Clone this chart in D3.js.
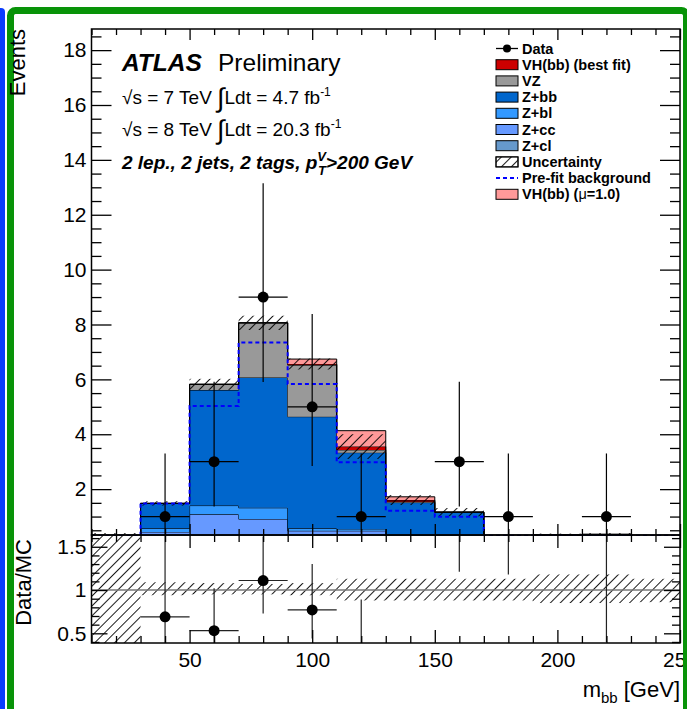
<!DOCTYPE html>
<html lang="en">
<head>
<meta charset="UTF-8"/>
<title>m_bb 2 lepton 2 tag</title>
<script src="https://d3js.org/d3.v7.min.js"></script>
<style>
    body { margin: 0; background: #fff; }
    svg text { font-family: "Liberation Sans", Arial, Helvetica, sans-serif; }
</style>
</head>
<body>
<div id="chart"></div>
<script>
    // m_bb bin edges (GeV)
    var binEdges = [10, 30, 50, 70, 90, 110, 130, 150, 170, 190, 210, 230, 250];

    // stacked backgrounds per bin, bottom to top
    var zcl  = [0, 0.10, 0.15, 0.12, 0.08, 0.06, 0.02, 0.01, 0, 0, 0, 0];
    var zcc  = [0, 0.34, 0.93, 0.79, 0.40, 0.42, 0.05, 0.03, 0.01, 0.01, 0.01, 0];
    var zbl  = [0, 0.13, 0.32, 0.41, 0.09, 0.07, 0.05, 0.03, 0.01, 0.01, 0.01, 0];
    var zbb  = [0, 0.91, 4.21, 4.75, 4.07, 2.78, 1.39, 1.09, 0.13, 0.31, 0.33, 0];
    var vz   = [0, 0, 0.21, 1.99, 1.88, 0.10, 0.04, 0, 0, 0, 0, 0];
    var vh   = [0, 0, 0, 0, 0.04, 0.12, 0.05, 0, 0, 0, 0, 0];
    var vhSM = [0, 0, 0, 0, 0.18, 0.58, 0.12, 0, 0, 0, 0, 0];
    var uncertainty = [0.40, 0.08, 0.20, 0.26, 0.20, 0.45, 0.18, 0.15, 0.05, 0.05, 0.05, 0.05];
    var prefit = [0.3, 1.48, 5.03, 7.34, 5.83, 2.98, 1.21, 0.99, 0.3, 0.3, 0.3, 0.3];

    // data
    var dataMass   = [40, 60, 80, 100, 120, 160, 180, 220];
    var dataEvents = [1, 3, 9, 5, 1, 3, 1, 1];
    var dataLow    = [0.173, 1.367, 5.902, 2.840, 0.173, 1.367, 0.173, 0.173];
    var dataHigh   = [3.300, 5.918, 13.145, 8.382, 3.300, 5.918, 3.300, 3.300];

    // ratio panel
    var ratioVal  = [0.69, 0.53, 1.11, 0.77, 0.29, 2.6, 6.8, 2.6];
    var ratioLow  = [0.12, 0.24, 0.73, 0.44, 0.05, 1.21, 1.18, 0.40];
    var ratioHigh = [2.28, 1.02, 1.62, 1.30, 0.89, 5.1, 22, 8.7];
    var ratioBandLow  = [0, 0.94, 0.95, 0.95, 0.94, 0.88, 0.88, 0.88, 0.88, 0.85, 0.85, 0.86];
    var ratioBandHigh = [2, 1.09, 1.08, 1.07, 1.08, 1.13, 1.13, 1.13, 1.13, 1.18, 1.18, 1.13];

    var yTicks = [2, 4, 6, 8, 10, 12, 14, 16, 18];
    var ratioTicks = [0.5, 1, 1.5];
    var xTicks = [50, 100, 150, 200, 250];

    var legendLabels = ["Data", "VH(bb) (best fit)", "VZ", "Z+bb", "Z+bl", "Z+cc", "Z+cl",
                        "Uncertainty", "Pre-fit background", "VH(bb) (\u03bc=1.0)"];

    var colours = { zcl: "#6699cc", zcc: "#6699ff", zbl: "#3399ff", zbb: "#0066cc",
                    vz: "#999999", vh: "#cc0000", vhSM: "#ff9999" };

    var w = 687, h = 709;
    var L = 91.5, R = 680, T = 29, MID = 535, B = 643;

    var x = d3.scaleLinear().domain([10, 250]).range([L, R]);
    var y = d3.scaleLinear().domain([0, 18.77]).range([544, T]);
    var yr = d3.scaleLinear().domain([0.388, 1.636]).range([B, MID]);

    var svg = d3.select("#chart").append("svg")
        .attr("width", w).attr("height", h).style("display", "block");
    svg.append("rect").attr("width", w).attr("height", h).attr("fill", "white");

    var defs = svg.append("defs");
    defs.append("pattern").attr("id", "hatch")
        .attr("patternUnits", "userSpaceOnUse").attr("width", 7).attr("height", 7)
        .attr("patternTransform", "rotate(45)")
        .append("line").attr("x1", 3.5).attr("y1", 0).attr("x2", 3.5).attr("y2", 7)
        .attr("stroke", "black").attr("stroke-width", 0.9);
    defs.append("clipPath").attr("id", "clipTop").append("rect")
        .attr("x", L).attr("y", T).attr("width", R - L).attr("height", MID - T + 1);
    defs.append("clipPath").attr("id", "clipRatio").append("rect")
        .attr("x", L).attr("y", MID).attr("width", R - L).attr("height", B - MID);

    // ---------- top panel ----------
    var keys = ["zcl", "zcc", "zbl", "zbb", "vz", "vh", "vhSM"];
    var src = { zcl: zcl, zcc: zcc, zbl: zbl, zbb: zbb, vz: vz, vh: vh, vhSM: vhSM };
    var rows = binEdges.slice(0, -1).map(function(lo, i) {
        var r = { lo: lo };
        keys.forEach(function(k) { r[k] = src[k][i]; });
        return r;
    });
    var series = d3.stack().keys(keys)(rows);

    function steps(low, high) {
        var pts = low.map(function(v, i) { return { x: binEdges[i], y0: v, y1: high[i] }; });
        pts.push({ x: binEdges[binEdges.length - 1], y0: low[low.length - 1], y1: high[high.length - 1] });
        return pts;
    }

    var area = d3.area().curve(d3.curveStepAfter)
        .x(function(d) { return x(d.x); })
        .y0(function(d) { return y(d.y0); })
        .y1(function(d) { return y(d.y1); });
    var outline = d3.line().curve(d3.curveStepAfter)
        .x(function(d) { return x(d.x); })
        .y(function(d) { return y(d.y1); });

    var topG = svg.append("g").attr("clip-path", "url(#clipTop)");

    series.forEach(function(s) {
        var pts = steps(s.map(function(d) { return d[0]; }), s.map(function(d) { return d[1]; }));
        topG.append("path").attr("d", area(pts)).attr("fill", colours[s.key]);
        topG.append("path").attr("d", outline(pts)).attr("fill", "none")
            .attr("stroke", "black").attr("stroke-width", 1);
    });

    // uncertainty hatch around the best-fit total
    var total = series[5].map(function(d) { return d[1]; });
    topG.selectAll("rect.unc")
        .data(total)
        .enter()
        .append("rect")
        .attr("class", "unc")
        .attr("x", function(d, i) { return x(binEdges[i]); })
        .attr("width", function(d, i) { return x(binEdges[i + 1]) - x(binEdges[i]); })
        .attr("y", function(d, i) { return y(d + uncertainty[i]); })
        .attr("height", function(d, i) { return y(d - uncertainty[i]) - y(d + uncertainty[i]); })
        .attr("fill", "url(#hatch)");

    // pre-fit background
    topG.append("path")
        .attr("d", outline(steps(prefit, prefit)))
        .attr("fill", "none")
        .attr("stroke", "#0000ff")
        .attr("stroke-width", 2)
        .attr("stroke-dasharray", "4,3");

    // data
    dataMass.forEach(function(m, i) {
        topG.append("line").attr("x1", x(m)).attr("x2", x(m))
            .attr("y1", y(dataLow[i])).attr("y2", y(dataHigh[i]))
            .attr("stroke", "black").attr("stroke-width", 1.2);
        topG.append("line").attr("x1", x(m - 10)).attr("x2", x(m + 10))
            .attr("y1", y(dataEvents[i])).attr("y2", y(dataEvents[i]))
            .attr("stroke", "black").attr("stroke-width", 1.2);
    });
    topG.selectAll("circle")
        .data(dataMass)
        .enter()
        .append("circle")
        .attr("cx", function(d) { return x(d); })
        .attr("cy", function(d, i) { return y(dataEvents[i]); })
        .attr("r", 5.5)
        .attr("fill", "black");

    // ---------- ratio panel ----------
    var rat = svg.append("g").attr("clip-path", "url(#clipRatio)");

    rat.selectAll("rect")
        .data(ratioBandLow)
        .enter()
        .append("rect")
        .attr("x", function(d, i) { return x(binEdges[i]); })
        .attr("width", function(d, i) { return x(binEdges[i + 1]) - x(binEdges[i]); })
        .attr("y", function(d, i) { return yr(ratioBandHigh[i]); })
        .attr("height", function(d, i) { return yr(d) - yr(ratioBandHigh[i]); })
        .attr("fill", "url(#hatch)");

    rat.append("line").attr("x1", L).attr("x2", R).attr("y1", yr(1)).attr("y2", yr(1))
        .attr("stroke", "#777").attr("stroke-width", 1.5);

    dataMass.forEach(function(m, i) {
        rat.append("line").attr("x1", x(m)).attr("x2", x(m))
            .attr("y1", yr(ratioLow[i])).attr("y2", yr(ratioHigh[i]))
            .attr("stroke", "#222").attr("stroke-width", 1.2);
        if (ratioVal[i] > yr.domain()[0] && ratioVal[i] < yr.domain()[1]) {
            rat.append("line").attr("x1", x(m - 10)).attr("x2", x(m + 10))
                .attr("y1", yr(ratioVal[i])).attr("y2", yr(ratioVal[i]))
                .attr("stroke", "#222").attr("stroke-width", 1.2);
            rat.append("circle").attr("cx", x(m)).attr("cy", yr(ratioVal[i]))
                .attr("r", 5.5).attr("fill", "black");
        }
    });

    // ---------- frames and axes ----------
    function tickStyle(g) {
        g.select(".domain").remove();
        g.selectAll(".tick line").attr("stroke", "black").attr("stroke-width", 1.3);
        g.selectAll(".tick text").attr("fill", "black").attr("font-size", "21px")
            .style("font-family", "Liberation Sans, Arial, sans-serif");
    }
    function minorValues(start, stop, step, majors) {
        return d3.range(start, stop + 1e-6, step).filter(function(v) {
            return !majors.some(function(m) { return Math.abs(m - v) < 1e-6; });
        });
    }

    var xMinor = minorValues(10, 250, 10, xTicks);
    var yMinor = minorValues(0.5, 18.5, 0.5, yTicks);
    var rMinor = minorValues(0.4, 1.6, 0.1, ratioTicks);

    // top panel y axes
    svg.append("g").attr("transform", "translate(" + L + ",0)")
        .call(d3.axisLeft(y).tickValues(yTicks).tickSizeInner(-20).tickSizeOuter(0).tickPadding(5))
        .call(tickStyle);
    svg.append("g").attr("transform", "translate(" + L + ",0)")
        .call(d3.axisLeft(y).tickValues(yMinor).tickSizeInner(-10).tickSizeOuter(0).tickFormat(""))
        .call(tickStyle);
    svg.append("g").attr("transform", "translate(" + R + ",0)")
        .call(d3.axisRight(y).tickValues(yTicks).tickSizeInner(-20).tickSizeOuter(0).tickFormat(""))
        .call(tickStyle);
    svg.append("g").attr("transform", "translate(" + R + ",0)")
        .call(d3.axisRight(y).tickValues(yMinor).tickSizeInner(-10).tickSizeOuter(0).tickFormat(""))
        .call(tickStyle);

    // top panel x axes
    svg.append("g").attr("transform", "translate(0," + T + ")")
        .call(d3.axisTop(x).tickValues(xTicks).tickSizeInner(-11).tickSizeOuter(0).tickFormat(""))
        .call(tickStyle);
    svg.append("g").attr("transform", "translate(0," + T + ")")
        .call(d3.axisTop(x).tickValues(xMinor).tickSizeInner(-6).tickSizeOuter(0).tickFormat(""))
        .call(tickStyle);
    svg.append("g").attr("transform", "translate(0," + MID + ")")
        .call(d3.axisBottom(x).tickValues(xTicks).tickSizeInner(-11).tickSizeOuter(0).tickFormat(""))
        .call(tickStyle);
    svg.append("g").attr("transform", "translate(0," + MID + ")")
        .call(d3.axisBottom(x).tickValues(xMinor).tickSizeInner(-6).tickSizeOuter(0).tickFormat(""))
        .call(tickStyle);

    // ratio panel axes
    svg.append("g").attr("transform", "translate(" + L + ",0)")
        .call(d3.axisLeft(yr).tickValues(ratioTicks).tickSizeInner(-16).tickSizeOuter(0).tickPadding(5)
            .tickFormat(d3.format("")))
        .call(tickStyle);
    svg.append("g").attr("transform", "translate(" + L + ",0)")
        .call(d3.axisLeft(yr).tickValues(rMinor).tickSizeInner(-8).tickSizeOuter(0).tickFormat(""))
        .call(tickStyle);
    svg.append("g").attr("transform", "translate(" + R + ",0)")
        .call(d3.axisRight(yr).tickValues(ratioTicks).tickSizeInner(-16).tickSizeOuter(0).tickFormat(""))
        .call(tickStyle);
    svg.append("g").attr("transform", "translate(" + R + ",0)")
        .call(d3.axisRight(yr).tickValues(rMinor).tickSizeInner(-8).tickSizeOuter(0).tickFormat(""))
        .call(tickStyle);
    svg.append("g").attr("transform", "translate(0," + MID + ")")
        .call(d3.axisTop(x).tickValues(xTicks).tickSizeInner(-13).tickSizeOuter(0).tickFormat(""))
        .call(tickStyle);
    svg.append("g").attr("transform", "translate(0," + MID + ")")
        .call(d3.axisTop(x).tickValues(xMinor).tickSizeInner(-7).tickSizeOuter(0).tickFormat(""))
        .call(tickStyle);
    svg.append("g").attr("transform", "translate(0," + B + ")")
        .call(d3.axisBottom(x).tickValues(xTicks).tickSizeInner(-13).tickSizeOuter(0).tickPadding(9))
        .call(tickStyle);
    svg.append("g").attr("transform", "translate(0," + B + ")")
        .call(d3.axisBottom(x).tickValues(xMinor).tickSizeInner(-7).tickSizeOuter(0).tickFormat(""))
        .call(tickStyle);

    svg.append("rect").attr("x", L).attr("y", T).attr("width", R - L).attr("height", MID - T)
        .attr("fill", "none").attr("stroke", "black").attr("stroke-width", 1.5);
    svg.append("rect").attr("x", L).attr("y", MID).attr("width", R - L).attr("height", B - MID)
        .attr("fill", "none").attr("stroke", "black").attr("stroke-width", 1.5);

    // ---------- labels ----------
    var atlas = svg.append("text").attr("x", 122).attr("y", 71).attr("font-size", "24.5px");
    atlas.append("tspan").attr("font-weight", "bold").attr("font-style", "italic").text("ATLAS");
    svg.append("text").attr("x", 218).attr("y", 71).attr("font-size", "24.5px").text("Preliminary");

    function lumiLine(yy, energy, lumi) {
        var t = svg.append("text").attr("x", 122).attr("y", yy).attr("font-size", "19px");
        t.append("tspan").text("\u221as = " + energy + " TeV ");
        t.append("tspan").attr("font-size", "27px").attr("dy", 3).text("\u222b");
        t.append("tspan").attr("dy", -3).text("Ldt = " + lumi + " fb");
        t.append("tspan").attr("font-size", "12px").attr("dy", -8).text("-1");
    }
    lumiLine(104, "7", "4.7");
    lumiLine(136, "8", "20.3");

    var sel = svg.append("text").attr("x", 122).attr("y", 169).attr("font-size", "19px")
        .attr("font-weight", "bold").attr("font-style", "italic");
    sel.append("tspan").text("2 lep., 2 jets, 2 tags, p");
    sel.append("tspan").attr("font-size", "13px").attr("dy", -8).text("V");
    sel.append("tspan").attr("font-size", "13px").attr("dx", -8).attr("dy", 14).text("T");
    sel.append("tspan").attr("dy", -6).text(">200 GeV");

    // legend
    var lx = 496, ly0 = 48.5, lstep = 16.2;
    var legendFills = [null, colours.vh, colours.vz, colours.zbb, colours.zbl, colours.zcc, colours.zcl,
                       "url(#hatch)", null, colours.vhSM];
    legendLabels.forEach(function(lab, i) {
        var cy = ly0 + i * lstep;
        if (i === 0) {
            svg.append("line").attr("x1", lx).attr("x2", lx + 22).attr("y1", cy).attr("y2", cy)
                .attr("stroke", "black").attr("stroke-width", 1.3);
            svg.append("circle").attr("cx", lx + 11).attr("cy", cy).attr("r", 4).attr("fill", "black");
        } else if (i === 8) {
            svg.append("line").attr("x1", lx).attr("x2", lx + 22).attr("y1", cy).attr("y2", cy)
                .attr("stroke", "#0000ff").attr("stroke-width", 2).attr("stroke-dasharray", "4,3");
        } else {
            svg.append("rect").attr("x", lx).attr("y", cy - 5).attr("width", 22).attr("height", 10)
                .attr("fill", i === 7 ? "white" : legendFills[i])
                .attr("stroke", "black").attr("stroke-width", 1);
            if (i === 7) {
                svg.append("rect").attr("x", lx).attr("y", cy - 5).attr("width", 22).attr("height", 10)
                    .attr("fill", legendFills[i]).attr("stroke", "black").attr("stroke-width", 1);
            }
        }
        var t = svg.append("text").attr("x", lx + 26).attr("y", cy + 5)
            .attr("font-size", "14.5px").attr("font-weight", "bold");
        if (i === 9) {
            t.append("tspan").text("VH(bb) (");
            t.append("tspan").attr("font-weight", "normal").text("\u03bc");
            t.append("tspan").text("=1.0)");
        } else {
            t.text(lab);
        }
    });

    // frame decoration of the slide
    svg.append("rect").attr("x", -5).attr("y", 8).attr("width", 10).attr("height", 720)
        .attr("rx", 4).attr("fill", "#0a3cff");
    svg.append("rect").attr("x", 10.5).attr("y", 10.5).attr("width", 676).attr("height", 720)
        .attr("rx", 5).attr("fill", "none").attr("stroke", "#089308").attr("stroke-width", 7);

    // axis titles
    svg.append("text").attr("transform", "rotate(-90)")
        .attr("x", -29).attr("y", 25)
        .attr("text-anchor", "end").attr("font-size", "22px").text("Events");
    svg.append("text").attr("transform", "rotate(-90)")
        .attr("x", -539).attr("y", 31)
        .attr("text-anchor", "end").attr("font-size", "22px").text("Data/MC");

    var xl = svg.append("text").attr("x", 680).attr("y", 697)
        .attr("text-anchor", "end").attr("font-size", "22px");
    xl.append("tspan").text("m");
    xl.append("tspan").attr("font-size", "15px").attr("dy", 6).text("bb");
    xl.append("tspan").attr("dy", -6).text(" [GeV]");
</script>
</body>
</html>
